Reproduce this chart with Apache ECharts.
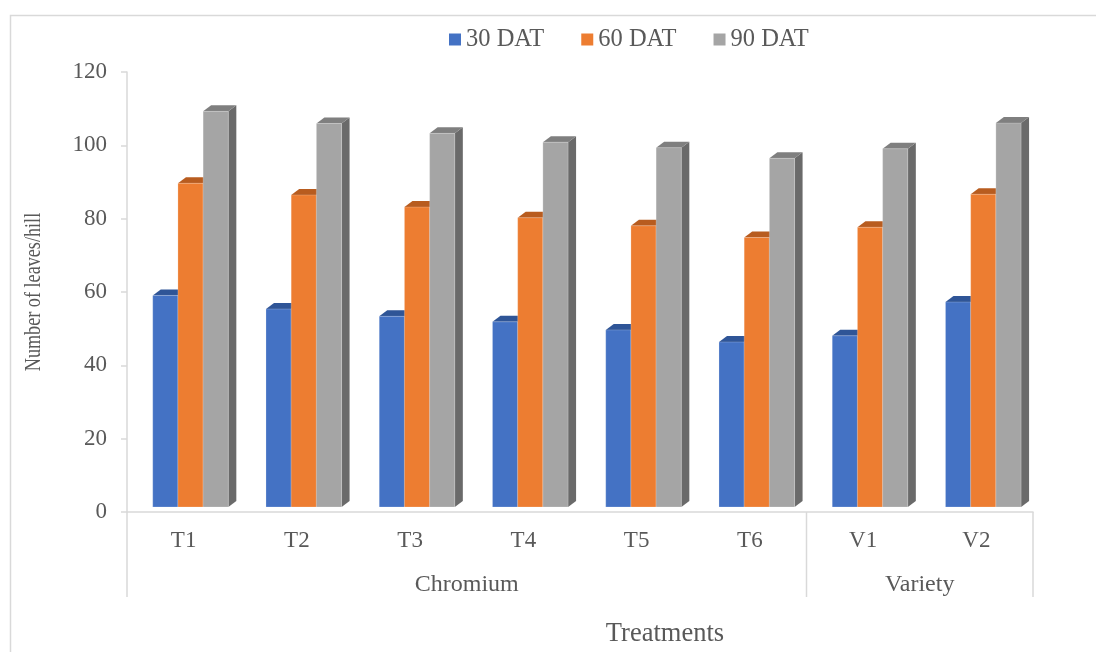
<!DOCTYPE html>
<html>
<head>
<meta charset="utf-8">
<title>Number of leaves per hill</title>
<script src="https://cdn.jsdelivr.net/npm/echarts@6/dist/echarts.min.js"></script>
<style>
  html, body { margin: 0; padding: 0; background: #ffffff; }
  #chart { width: 1096px; height: 652px; }
</style>
</head>
<body>
<div id="chart"></div>
<script>
// Treatment categories and the two category groups below them
const categories = ['T1', 'T2', 'T3', 'T4', 'T5', 'T6', 'V1', 'V2'];
const groups = [
  { name: 'Chromium', from: 0, to: 6 },
  { name: 'Variety', from: 6, to: 8 }
];

// Number of leaves per hill at each sampling date
const seriesNames = ['30 DAT', '60 DAT', '90 DAT'];
const dat30 = [57.7, 54.0, 52.0, 50.5, 48.3, 45.0, 46.7, 55.9];
const dat60 = [88.3, 85.1, 81.8, 78.9, 76.7, 73.5, 76.3, 85.3];
const dat90 = [107.9, 104.6, 101.9, 99.5, 98.0, 95.1, 97.7, 104.7];

// Value axis
const yMin = 0, yMax = 120, yStep = 20;
const yTitle = 'Number of leaves/hill';
const xTitle = 'Treatments';

const FONT = '"Liberation Serif", "Times New Roman", serif';
const TEXT = '#595959';
const LINE = '#D9D9D9';

// front / top / side shades of each column
const shades = [
  { front: '#4472C4', top: '#2F5597', side: '#345A9E' },
  { front: '#ED7D31', top: '#B85C1F', side: '#C0601F' },
  { front: '#A5A5A5', top: '#7F7F7F', side: '#6A6A6A' }
];

function columnRenderer(k) {
  return function (params, api) {
    const i = api.value(0);
    const v = api.value(1);
    const base = api.coord([i, 0]);
    const top = api.coord([i, v]);
    const cw = api.size([1, 0])[0];
    const bw = cw * 0.2225;      // width of one column face
    const shiftX = cw * 0.061;   // columns sit a little back in depth
    const lift = 5;
    const dx = 8, dy = 6;        // depth of each column
    const x0 = base[0] + shiftX - 1.5 * bw + k * bw;
    const yb = base[1] - lift;
    const yt = top[1] - lift;
    const c = shades[k];
    return {
      type: 'group',
      children: [
        {
          type: 'polygon',
          shape: { points: [[x0 + bw, yt], [x0 + bw + dx, yt - dy], [x0 + bw + dx, yb - dy], [x0 + bw, yb]] },
          style: { fill: c.side }
        },
        {
          type: 'polygon',
          shape: { points: [[x0, yt], [x0 + dx, yt - dy], [x0 + bw + dx, yt - dy], [x0 + bw, yt]] },
          style: { fill: c.top }
        },
        {
          type: 'rect',
          shape: { x: x0, y: yt, width: bw, height: yb - yt },
          style: { fill: c.front, stroke: 'rgba(255,255,255,0.35)', lineWidth: 0.6 }
        }
      ]
    };
  };
}

const allValues = [dat30, dat60, dat90];

const chart = echarts.init(document.getElementById('chart'), null, { renderer: 'canvas' });

chart.setOption({
  animation: false,
  backgroundColor: '#ffffff',
  textStyle: { fontFamily: FONT },
  legend: {
    data: seriesNames,
    left: 449,
    top: 27,
    padding: 0,
    icon: 'rect',
    itemWidth: 12,
    itemHeight: 12,
    itemGap: 37,
    textStyle: { fontFamily: FONT, fontSize: 24.5, color: TEXT }
  },
  grid: { left: 127, right: 63, top: 72, bottom: 140, containLabel: false },
  xAxis: {
    type: 'category',
    data: categories,
    boundaryGap: true,
    axisLine: { show: true, lineStyle: { color: LINE, width: 1.5 } },
    axisTick: { show: false },
    axisLabel: { fontFamily: FONT, fontSize: 23, color: TEXT, margin: 17 },
    splitLine: { show: false }
  },
  yAxis: {
    type: 'value',
    min: yMin,
    max: yMax,
    interval: yStep,
    axisLine: { show: true, lineStyle: { color: LINE, width: 1.5 } },
    axisTick: { show: true, length: 6, lineStyle: { color: LINE, width: 1.5 } },
    axisLabel: { fontFamily: FONT, fontSize: 23, color: TEXT, margin: 20 },
    splitLine: { show: false }
  },
  series: seriesNames.map(function (name, k) {
    return {
      name: name,
      type: 'custom',
      renderItem: columnRenderer(k),
      itemStyle: { color: shades[k].front },
      encode: { x: 0, y: 1 },
      data: allValues[k].map(function (v, i) { return [i, v]; }),
      z: 2 + k
    };
  })
});

// Group dividers and labels below the category axis, axis titles, outer frame
function drawDecor() {
  const c0 = chart.convertToPixel({ xAxisIndex: 0 }, 0);
  const c1 = chart.convertToPixel({ xAxisIndex: 0 }, 1);
  const cw = c1 - c0;
  const axisY = chart.convertToPixel({ yAxisIndex: 0 }, 0);
  const axisTop = chart.convertToPixel({ yAxisIndex: 0 }, yMax);
  const edge = function (idx) { return c0 - cw / 2 + idx * cw; };
  const elements = [
    {
      type: 'rect',
      shape: { x: 10.5, y: 15.5, width: 1200, height: 800 },
      style: { fill: null, stroke: LINE, lineWidth: 1.5 },
      silent: true
    }
  ];
  const bounds = [0];
  groups.forEach(function (g) { bounds.push(g.to); });
  bounds.forEach(function (b) {
    const x = edge(b);
    elements.push({
      type: 'line',
      shape: { x1: x, y1: axisY, x2: x, y2: axisY + 85 },
      style: { stroke: LINE, lineWidth: 1.5 },
      silent: true
    });
  });
  groups.forEach(function (g) {
    elements.push({
      type: 'text',
      x: (edge(g.from) + edge(g.to)) / 2,
      y: axisY + 73,
      style: {
        text: g.name, fontFamily: FONT, fontSize: 24, fill: TEXT,
        align: 'center', verticalAlign: 'middle'
      },
      silent: true
    });
  });
  // vertical title, set slightly narrow along its length
  elements.push({
    type: 'text',
    x: 34,
    y: (axisY + axisTop) / 2,
    rotation: Math.PI / 2,
    scaleX: 0.79,
    style: {
      text: yTitle, fontFamily: FONT, fontSize: 23, fill: TEXT,
      align: 'center', verticalAlign: 'middle'
    },
    silent: true
  });
  elements.push({
    type: 'text',
    x: 665,
    y: 634,
    style: {
      text: xTitle, fontFamily: FONT, fontSize: 26.5, fill: TEXT,
      align: 'center', verticalAlign: 'middle'
    },
    silent: true
  });
  chart.setOption({ graphic: { elements: elements } });
}
drawDecor();
</script>
</body>
</html>
